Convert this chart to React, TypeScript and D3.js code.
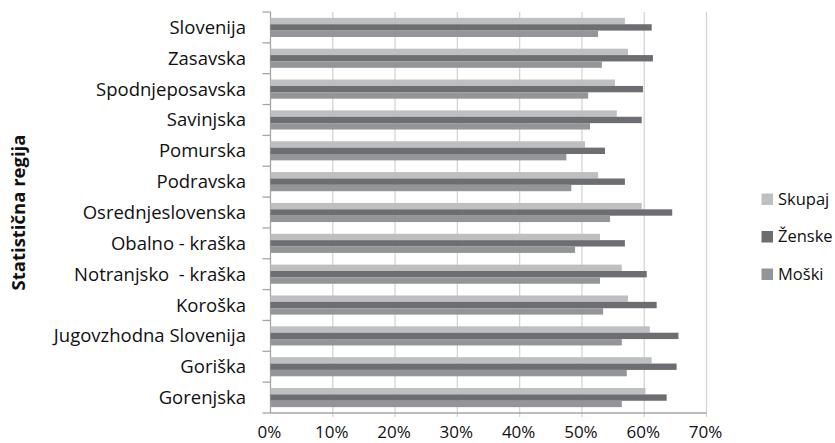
import * as d3 from "d3";

const regions = [
  "Slovenija",
  "Zasavska",
  "Spodnjeposavska",
  "Savinjska",
  "Pomurska",
  "Podravska",
  "Osrednjeslovenska",
  "Obalno - kraška",
  "Notranjsko  - kraška",
  "Koroška",
  "Jugovzhodna Slovenija",
  "Goriška",
  "Gorenjska",
];

const series = ["Skupaj", "Ženske", "Moški"];

const skupaj = [56.9, 57.4, 55.3, 55.6, 50.5, 52.6, 59.6, 52.9, 56.4, 57.4, 60.9, 61.2, 60.2];
const zenske = [61.2, 61.4, 59.8, 59.6, 53.7, 56.9, 64.5, 56.9, 60.4, 62.0, 65.5, 65.2, 63.6];
const moski = [52.6, 53.2, 51.0, 51.3, 47.5, 48.3, 54.5, 48.9, 52.9, 53.4, 56.4, 57.2, 56.4];

const xTicks = [0, 10, 20, 30, 40, 50, 60, 70];

const colors = ["#bebfc1", "#6d6e71", "#939598"];
const font = "'Open Sans', sans-serif";

export default function App() {
  const W = 835,
    H = 443;
  const m = { top: 12, right: 128.5, bottom: 30, left: 270.5 };

  const x = d3.scaleLinear().domain([0, 70]).range([m.left, W - m.right]);
  const y = d3
    .scaleBand<string>()
    .domain(regions)
    .range([m.top, H - m.bottom])
    .paddingInner(0.38)
    .paddingOuter(0.19);
  const inner = d3
    .scaleBand<string>()
    .domain(series)
    .range([0, y.bandwidth()]);

  const data = [skupaj, zenske, moski];
  const step = y.step();

  return (
    <div style={{ position: "fixed", left: 0, top: 0 }}>
      <svg width={W} height={H} style={{ display: "block", background: "#fff" }}>
        {/* gridlines */}
        {xTicks.map((t) => (
          <line
            key={t}
            x1={x(t)}
            x2={x(t)}
            y1={m.top}
            y2={H - m.bottom + (t === 0 ? 0 : 4)}
            stroke={t === 0 ? "#a6a6a6" : "#d4d4d4"}
            strokeWidth={1.3}
          />
        ))}
        {/* bars */}
        {regions.map((r, i) => (
          <g key={r} transform={`translate(0,${y(r)})`}>
            {series.map((s, j) => (
              <rect
                key={s}
                x={x(0)}
                y={inner(s)}
                width={x(data[j][i]) - x(0)}
                height={inner.bandwidth()}
                fill={colors[j]}
              />
            ))}
          </g>
        ))}
        {/* left axis ticks */}
        {d3.range(regions.length + 1).map((i) => (
          <line
            key={i}
            x1={m.left - 8}
            x2={m.left}
            y1={m.top + i * step}
            y2={m.top + i * step}
            stroke="#a6a6a6"
            strokeWidth={1.3}
          />
        ))}
        <line
          x1={m.left}
          x2={W - m.right}
          y1={H - m.bottom}
          y2={H - m.bottom}
          stroke="#a6a6a6"
          strokeWidth={1.3}
        />
        {/* category labels */}
        {regions.map((r) => (
          <text
            key={r}
            x={246}
            y={(y(r) ?? 0) + y.bandwidth() / 2}
            dy="0.35em"
            textAnchor="end"
            fontFamily={font}
            fontSize={18.5}
            fill="#111"
            style={{ whiteSpace: "pre" }}
          >
            {r}
          </text>
        ))}
        {/* x tick labels */}
        {xTicks.map((t) => (
          <text
            key={t}
            x={x(t) - 1}
            y={438}
            textAnchor="middle"
            fontFamily={font}
            fontSize={17}
            fill="#111"
          >
            {t}%
          </text>
        ))}
        <text
          transform={`translate(19,${(m.top + H - m.bottom) / 2}) rotate(-90)`}
          textAnchor="middle"
          dy="0.35em"
          fontFamily={font}
          fontWeight="bold"
          fontSize={18.5}
          fill="#111"
        >
          Statistična regija
        </text>
        {/* legend */}
        {series.map((s, j) => (
          <g key={s} transform={`translate(761.5,${199 + j * 37.5})`}>
            <rect x={0} y={-5.5} width={11.5} height={11.5} fill={colors[j]} />
            <text x={16.5} dy="0.35em" fontFamily={font} fontSize={16.5} fill="#111">
              {s}
            </text>
          </g>
        ))}
      </svg>
    </div>
  );
}
